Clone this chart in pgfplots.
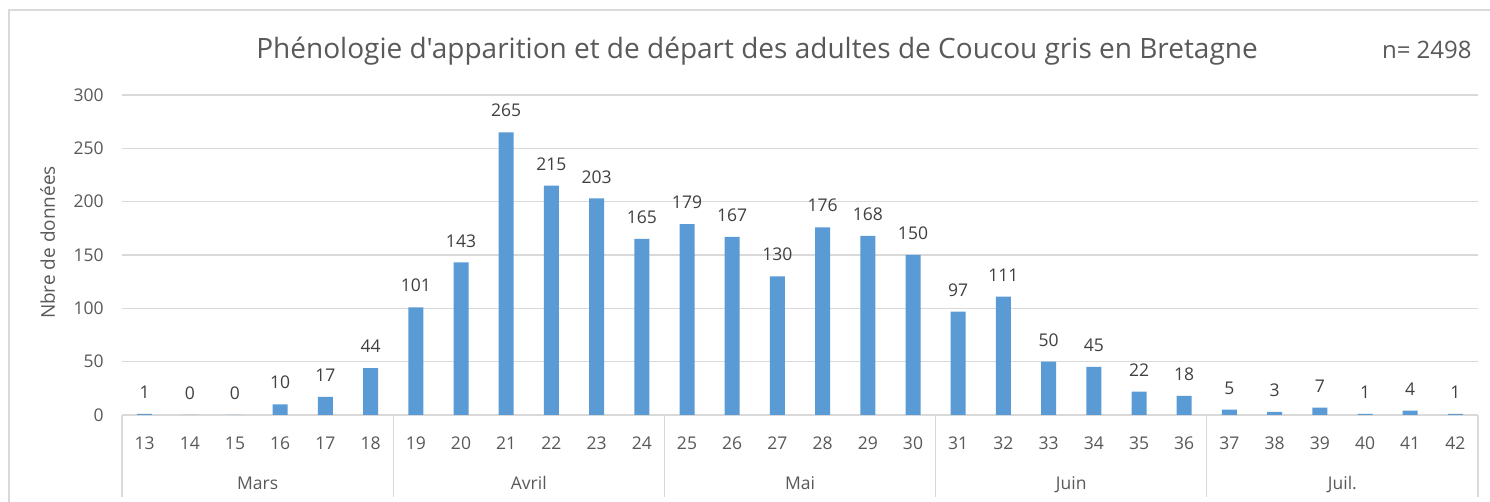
\documentclass[border=0pt]{standalone}
\usepackage{fontspec}
\setmainfont{Open Sans}
\newfontfamily\titlefont{Open Sans}[Ligatures=TeXOff]
\usepackage{pgfplots}
\pgfplotsset{compat=1.18}
\definecolor{barblue}{HTML}{5B9BD5}
\definecolor{txtgray}{HTML}{595959}
\definecolor{lblgray}{HTML}{404040}
\definecolor{gridgray}{HTML}{D9D9D9}
\begin{document}
\begin{tikzpicture}[x=1pt,y=1pt]
\useasboundingbox (0,0) rectangle (745,251);
\fill[white] (0,0) rectangle (745,251);
\draw[gridgray, line width=0.8pt] (4.5,0) -- (4.5,246) -- (745,246);
\begin{axis}[
  at={(61pt,43.5pt)}, anchor=south west,
  scale only axis, width=678pt, height=160pt,
  xmin=-0.5, xmax=29.5, ymin=0, ymax=300,
  ybar, bar width=7.5pt,
  /pgf/number format/assume math mode=true,
  axis line style={draw=none},
  ytick={0,50,...,300},
  ymajorgrids, grid style={gridgray, line width=0.6pt},
  xtick={0,...,29},
  xticklabels={13,14,15,16,17,18,19,20,21,22,23,24,25,26,27,28,29,30,31,32,33,34,35,36,37,38,39,40,41,42},
  minor xtick={-0.5,5.5,11.5,17.5,23.5,29.5},
  minor tick length=41pt,
  minor x tick style={gridgray, line width=0.6pt},
  major tick length=0pt,
  tick align=outside,
  xtick pos=bottom, ytick pos=left,
  tick label style={font=\fontsize{8.75}{10}\selectfont, text=txtgray},
  yticklabel style={anchor=east, inner sep=0pt, xshift=-9pt},
  xticklabel style={anchor=base, inner sep=0pt, yshift=-17.25pt},
  extra x ticks={2.5,8.5,14.5,20.5,26.5},
  extra x tick labels={Mars,Avril,Mai,Juin,Juil.},
  extra x tick style={major tick length=0pt, grid=none,
     xticklabel style={yshift=-20pt}},
  nodes near coords,
  every node near coord/.append style={font=\fontsize{8.75}{10}\selectfont, text=lblgray, anchor=base, inner sep=0pt, yshift=7.7pt},
]
\addplot[fill=barblue, draw=none] coordinates {
(0,1) (1,0) (2,0) (3,10) (4,17) (5,44) (6,101) (7,143) (8,265) (9,215)
(10,203) (11,165) (12,179) (13,167) (14,130) (15,176) (16,168) (17,150) (18,97) (19,111)
(20,50) (21,45) (22,22) (23,18) (24,5) (25,3) (26,7) (27,1) (28,4) (29,1)
};
\end{axis}
\node[anchor=base, text=txtgray, font=\titlefont\fontsize{14}{16}\selectfont, inner sep=0pt] at (378.5,221.5) {Phénologie d'apparition et de départ des adultes de Coucou gris en Bretagne};
\node[anchor=base east, text=txtgray, font=\fontsize{12}{14}\selectfont, inner sep=0pt] at (736,221.8) {n= 2498};
\node[rotate=90, anchor=base, text=txtgray, font=\fontsize{9.5}{11}\selectfont, inner sep=0pt] at (27.5,129.75) {Nbre de données};
\end{tikzpicture}
\end{document}
